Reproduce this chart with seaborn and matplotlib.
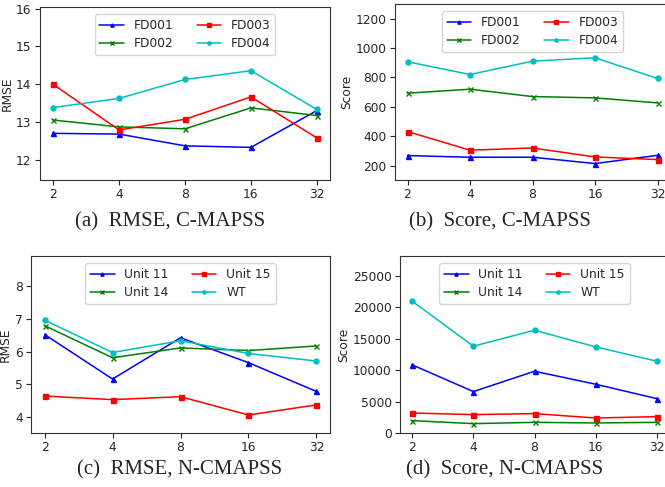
import numpy as np
import pandas as pd
import matplotlib
matplotlib.use('Agg')
import matplotlib.pyplot as plt
import seaborn as sns

# window sizes on x axis
windows = [2, 4, 8, 16, 32]

# (a) RMSE, C-MAPSS
rmse_fd001 = [12.71, 12.69, 12.38, 12.34, 13.31]
rmse_fd002 = [13.06, 12.88, 12.83, 13.38, 13.18]
rmse_fd003 = [14.00, 12.80, 13.08, 13.67, 12.59]
rmse_fd004 = [13.39, 13.63, 14.13, 14.36, 13.34]

# (b) Score, C-MAPSS
score_fd001 = [268, 257, 257, 214, 270]
score_fd002 = [693, 720, 670, 661, 627]
score_fd003 = [432, 305, 320, 259, 241]
score_fd004 = [907, 820, 911, 934, 793]

# (c) RMSE, N-CMAPSS
rmse_u11 = [6.52, 5.16, 6.42, 5.66, 4.78]
rmse_u14 = [6.79, 5.81, 6.11, 6.03, 6.17]
rmse_u15 = [4.64, 4.53, 4.62, 4.06, 4.37]
rmse_wt = [6.96, 5.97, 6.33, 5.94, 5.71]

# (d) Score, N-CMAPSS
score_u11 = [10850, 6600, 9840, 7770, 5480]
score_u14 = [1970, 1490, 1700, 1600, 1700]
score_u15 = [3190, 2930, 3090, 2390, 2610]
score_wt = [21000, 13830, 16380, 13720, 11440]

cmapss_names = ['FD001', 'FD002', 'FD003', 'FD004']
ncmapss_names = ['Unit 11', 'Unit 14', 'Unit 15', 'WT']
colors = ['b', 'g', 'r', 'c']
markers = ['^', 'x', 's', 'o']

sns.set_style('ticks')
plt.rcParams['font.family'] = ['DejaVu Sans']

W, H = 665, 487
fig = plt.figure(figsize=(W / 100, H / 100), dpi=100)


def box(l, t, r, b):
    return [l / W, 1 - b / H, (r - l) / W, (b - t) / H]


# right-hand panels run past the page edge, as in the original figure
panels = [
    (box(40, 7, 330, 180), cmapss_names, [rmse_fd001, rmse_fd002, rmse_fd003, rmse_fd004],
     'RMSE', (11.48, 16.04), [12, 13, 14, 15, 16], '(a)  RMSE, C-MAPSS', (170, 222)),
    (box(395, 4, 670, 180), cmapss_names, [score_fd001, score_fd002, score_fd003, score_fd004],
     'Score', (102, 1300), [200, 400, 600, 800, 1000, 1200], '(b)  Score, C-MAPSS', (500, 222)),
    (box(31, 256, 330, 433), ncmapss_names, [rmse_u11, rmse_u14, rmse_u15, rmse_wt],
     'RMSE', (3.51, 8.92), [4, 5, 6, 7, 8], '(c)  RMSE, N-CMAPSS', (180, 470)),
    (box(400, 256, 669, 433), ncmapss_names, [score_u11, score_u14, score_u15, score_wt],
     'Score', (0, 28200), [0, 5000, 10000, 15000, 20000, 25000], '(d)  Score, N-CMAPSS', (505, 470)),
]

for rect, names, series, ylabel, ylim, yticks, caption, cpos in panels:
    ax = fig.add_axes(rect)
    for name, vals, c, m in zip(names, series, colors, markers):
        sns.lineplot(x=windows, y=vals, ax=ax, color=c, marker=m, markersize=3.6,
                     markeredgecolor=c, markeredgewidth=1, linewidth=1.1, label=name)
    ax.set_xscale('log', base=2)
    ax.set_xticks(windows)
    ax.set_xticklabels([str(w) for w in windows])
    ax.minorticks_off()
    ax.set_ylim(*ylim)
    ax.set_yticks(yticks)
    ax.set_ylabel(ylabel, fontsize=8.8, labelpad=2)
    ax.set_xlabel('')
    ax.tick_params(labelsize=8.8, length=3.5, pad=2.5)
    for s in ax.spines.values():
        s.set_color('#333333')
        s.set_visible(True)
    ax.legend(ncol=2, loc='upper center', fontsize=8.8, handlelength=2.0,
              columnspacing=1.9, borderaxespad=0.6, labelspacing=0.4, markerscale=0.65)
    fig.text(cpos[0] / W, 1 - cpos[1] / H, caption, ha='center', va='center',
             fontsize=15, family=['Liberation Serif'])

fig.savefig('out.png', dpi=100)
